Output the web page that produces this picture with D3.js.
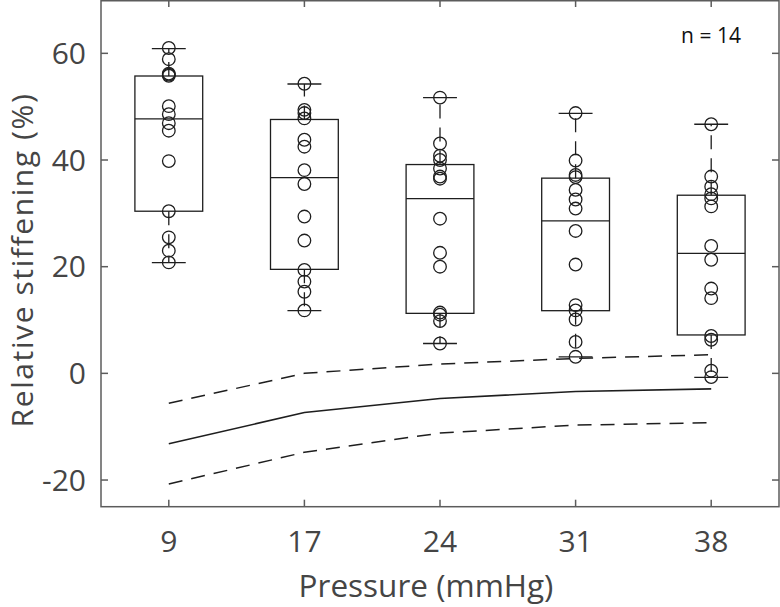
<!DOCTYPE html>
<html><head><meta charset="utf-8">
<script src="https://cdn.jsdelivr.net/npm/d3@7"></script>
<style>html,body{margin:0;padding:0;background:#fff}svg{display:block}</style>
</head><body>
<svg id="chart" width="780" height="607"></svg>
<script>
// ---- data ----
const pressures = ["9", "17", "24", "31", "38"];
const points9  = [61.0, 58.9, 56.2, 56.0, 55.8, 50.1, 48.6, 46.9, 45.5, 39.8, 30.4, 25.5, 23.0, 20.8];
const points17 = [54.3, 49.4, 48.8, 47.8, 43.8, 42.5, 38.1, 35.5, 29.4, 24.9, 19.4, 17.2, 15.3, 11.8];
const points24 = [51.7, 43.1, 40.8, 40.0, 38.4, 36.9, 36.5, 29.0, 22.6, 20.0, 11.4, 11.0, 9.8, 5.6];
const points31 = [48.8, 39.9, 37.2, 36.8, 34.4, 32.6, 30.9, 26.7, 20.4, 12.8, 11.8, 10.1, 5.9, 3.1];
const points38 = [46.7, 36.9, 35.0, 33.6, 32.8, 31.3, 23.9, 21.3, 15.9, 14.1, 7.0, 6.3, 0.5, -0.7];
const whiskerHigh = [60.9, 54.25, 51.7, 48.75, 46.7];
const quartile3   = [55.75, 47.6, 39.15, 36.6, 33.4];
const medians     = [47.7, 36.7, 32.75, 28.6, 22.5];
const quartile1   = [30.4, 19.5, 11.25, 11.75, 7.2];
const whiskerLow  = [20.75, 11.75, 5.6, 3.1, -0.75];
const meanLine  = [-13.2, -7.35, -4.7, -3.4, -2.9];
const upperLine = [-5.6, 0.0, 1.75, 2.8, 3.5];
const lowerLine = [-20.75, -14.8, -11.2, -9.7, -9.25];
const yTicks = [-20, 0, 20, 40, 60];
const annotation = "n = 14";
const xTitle = "Pressure (mmHg)";
const yTitle = "Relative stiffening (%)";

const allPoints = [points9, points17, points24, points31, points38];

// ---- layout ----
const L = 101, R = 779, T = 0, B = 506.7;
const FONT = "'Open Sans', 'Noto Sans', sans-serif";
const AX = "#5c5c5c", TXT = "#454545", INK = "#1e1e1e";

const svg = d3.select("#chart");
const x = d3.scalePoint().domain(pressures).range([L, R]).padding(0.5);
const step = x.step();
const y = d3.scaleLinear().domain([-25, 70]).range([B, T]);

const boxW = step * 0.5, capW = step * 0.25;
const dash = "14,9";

// reference lines
const lineGen = d3.line().x((d, i) => x(pressures[i])).y(d => y(d));
svg.append("path").attr("d", lineGen(upperLine)).attr("fill", "none")
  .attr("stroke", INK).attr("stroke-width", 1.5).attr("stroke-dasharray", dash);
svg.append("path").attr("d", lineGen(lowerLine)).attr("fill", "none")
  .attr("stroke", INK).attr("stroke-width", 1.5).attr("stroke-dasharray", dash);
svg.append("path").attr("d", lineGen(meanLine)).attr("fill", "none")
  .attr("stroke", INK).attr("stroke-width", 1.6);

// boxes
const g = svg.append("g");
pressures.forEach((p, i) => {
  const cx = x(p);
  g.append("line").attr("x1", cx).attr("x2", cx).attr("y1", y(quartile3[i])).attr("y2", y(whiskerHigh[i]))
    .attr("stroke", INK).attr("stroke-width", 1.3).attr("stroke-dasharray", dash);
  g.append("line").attr("x1", cx).attr("x2", cx).attr("y1", y(quartile1[i])).attr("y2", y(whiskerLow[i]))
    .attr("stroke", INK).attr("stroke-width", 1.3).attr("stroke-dasharray", dash);
  [whiskerHigh[i], whiskerLow[i]].forEach(v => {
    g.append("line").attr("x1", cx - capW / 2).attr("x2", cx + capW / 2).attr("y1", y(v)).attr("y2", y(v))
      .attr("stroke", INK).attr("stroke-width", 1.3);
  });
  g.append("rect").attr("x", cx - boxW / 2).attr("width", boxW)
    .attr("y", y(quartile3[i])).attr("height", y(quartile1[i]) - y(quartile3[i]))
    .attr("fill", "none").attr("stroke", INK).attr("stroke-width", 1.3);
  g.append("line").attr("x1", cx - boxW / 2).attr("x2", cx + boxW / 2)
    .attr("y1", y(medians[i])).attr("y2", y(medians[i]))
    .attr("stroke", INK).attr("stroke-width", 1.3);
  g.selectAll(null).data(allPoints[i]).enter().append("circle")
    .attr("cx", cx).attr("cy", d => y(d)).attr("r", 6.3)
    .attr("fill", "none").attr("stroke", INK).attr("stroke-width", 1.3);
});

// axes frame
const frame = svg.append("g").attr("stroke", AX).attr("stroke-width", 1.5).attr("fill", "none");
frame.append("rect").attr("x", L).attr("y", T + 0.75).attr("width", R - L).attr("height", B - T - 0.75);

const tickLen = 7;
yTicks.forEach(v => {
  frame.append("line").attr("x1", L).attr("x2", L + tickLen).attr("y1", y(v)).attr("y2", y(v));
  frame.append("line").attr("x1", R).attr("x2", R - tickLen).attr("y1", y(v)).attr("y2", y(v));
});
pressures.forEach(p => {
  frame.append("line").attr("x1", x(p)).attr("x2", x(p)).attr("y1", B).attr("y2", B - tickLen);
  frame.append("line").attr("x1", x(p)).attr("x2", x(p)).attr("y1", T).attr("y2", T + tickLen);
});

// tick labels
svg.append("g").selectAll("text").data(yTicks).enter().append("text")
  .attr("x", L - 15).attr("y", d => y(d)).attr("dy", "0.36em")
  .attr("text-anchor", "end").attr("font-family", FONT).attr("font-size", 30)
  .attr("fill", TXT).text(d => d);
svg.append("g").selectAll("text").data(pressures).enter().append("text")
  .attr("x", d => x(d)).attr("y", 552)
  .attr("text-anchor", "middle").attr("font-family", FONT).attr("font-size", 30)
  .attr("fill", TXT).text(d => d);

// titles
svg.append("text").attr("x", 426).attr("y", 597)
  .attr("text-anchor", "middle").attr("font-family", FONT).attr("font-size", 31.5)
  .attr("fill", TXT).text(xTitle);
svg.append("text").attr("transform", `translate(33,260) rotate(-90)`)
  .attr("text-anchor", "middle").attr("font-family", FONT).attr("font-size", 30)
  .attr("letter-spacing", 1.6)
  .attr("fill", TXT).text(yTitle);

// annotation
svg.append("text").attr("x", 711).attr("y", 43)
  .attr("text-anchor", "middle").attr("font-family", FONT).attr("font-size", 21)
  .attr("fill", "#111").text(annotation);
</script>
</body></html>
